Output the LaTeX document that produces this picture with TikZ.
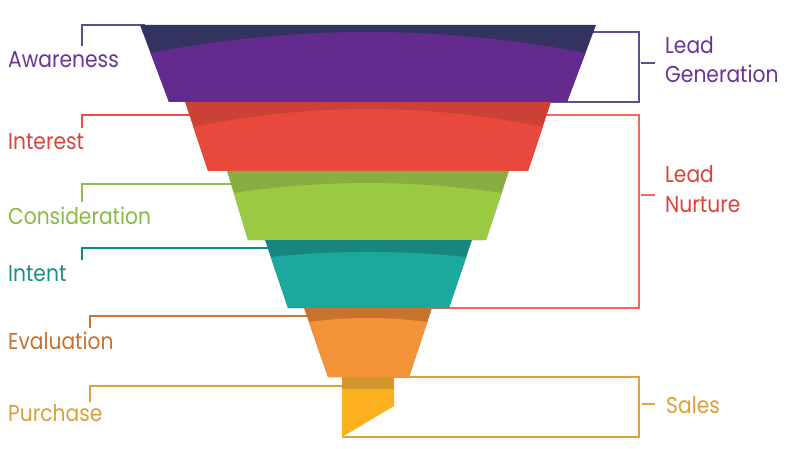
\documentclass[tikz,border=0pt]{standalone}
\usepackage{fontspec}
\setmainfont{Poppins}[FakeStretch=0.88]
\definecolor{pdark}{HTML}{33335F}
\definecolor{pmain}{HTML}{642B8F}
\definecolor{rdark}{HTML}{CC4136}
\definecolor{rmain}{HTML}{E8493C}
\definecolor{gdark}{HTML}{88AD40}
\definecolor{gmain}{HTML}{99CA42}
\definecolor{tdark}{HTML}{17877D}
\definecolor{tmain}{HTML}{1CA99D}
\definecolor{odark}{HTML}{C7722D}
\definecolor{omain}{HTML}{F39237}
\definecolor{ydark}{HTML}{D3962B}
\definecolor{ymain}{HTML}{FBB11E}
\definecolor{pline}{HTML}{575291}
\definecolor{rline}{HTML}{E9503F}
\definecolor{rbox}{HTML}{F0695B}
\definecolor{gline}{HTML}{8EBE52}
\definecolor{tline}{HTML}{15897E}
\definecolor{oline}{HTML}{C87632}
\definecolor{yline}{HTML}{DEA23C}
\definecolor{ptext}{HTML}{6A3494}
\definecolor{rtext}{HTML}{D9433A}
\definecolor{gtext}{HTML}{8AB945}
\definecolor{ttext}{HTML}{18907F}
\definecolor{otext}{HTML}{C7722F}
\definecolor{ytext}{HTML}{DAA035}
\begin{document}
\begin{tikzpicture}[x=1pt,y=-1pt,
  lbl/.style={inner sep=0pt,anchor=base west,font=\fontsize{23}{23}\selectfont},
  conn/.style={line width=1.2pt},
  tick/.style={line width=1.2pt}]
\useasboundingbox (0,0) rectangle (800,449);
% ---------- labels ----------
\node[lbl,text=ptext] (aw) at (8,68) {Awareness};
\node[lbl,text=rtext] (in) at (8,150) {Interest};
\node[lbl,text=gtext] (co) at (8,224) {Consideration};
\node[lbl,text=ttext] (it) at (8,281) {Intent};
\node[lbl,text=otext] (ev) at (8,349) {Evaluation};
\node[lbl,text=ytext] (pu) at (8,421) {Purchase};
\node[lbl,text=ptext] (lg1) at (665,54) {Lead};
\node[lbl,text=ptext] (lg2) at (665,83) {Generation};
\node[lbl,text=rtext] (ln1) at (665,183) {Lead};
\node[lbl,text=rtext] (ln2) at (665,212) {Nurture};
\node[lbl,text=ytext] (sa) at (666,413) {Sales};
% ---------- connector coordinates ----------
\coordinate (awA) at (82,46);  \coordinate (awB) at (82,25);  \coordinate (awC) at (145,25);
\coordinate (inA) at (82,128); \coordinate (inB) at (82,115); \coordinate (inC) at (300,115);
\coordinate (coA) at (82,202); \coordinate (coB) at (82,184); \coordinate (coC) at (320,184);
\coordinate (itA) at (82,260); \coordinate (itB) at (82,248); \coordinate (itC) at (320,248);
\coordinate (evA) at (90,328); \coordinate (evB) at (90,316); \coordinate (evC) at (340,316);
\coordinate (puA) at (90,402); \coordinate (puB) at (90,386); \coordinate (puC) at (360,386);
\coordinate (lgA) at (550,32); \coordinate (lgB) at (639,32); \coordinate (lgC) at (639,102); \coordinate (lgD) at (500,102);
\coordinate (lnA) at (450,115); \coordinate (lnB) at (639,115); \coordinate (lnC) at (639,308); \coordinate (lnD) at (400,308);
\coordinate (saA) at (380,377); \coordinate (saB) at (639,377); \coordinate (saC) at (639,437); \coordinate (saD) at (342,437);
\coordinate (lgT1) at (641,63);  \coordinate (lgT2) at (655,63);
\coordinate (lnT1) at (641,195); \coordinate (lnT2) at (655,195);
\coordinate (saT1) at (642,404); \coordinate (saT2) at (655,404);
% ---------- connectors ----------
\draw[conn,pline] (awA) -- (awB) -- (awC);
\draw[conn,rline] (inA) -- (inB) -- (inC);
\draw[conn,gline] (coA) -- (coB) -- (coC);
\draw[conn,tline] (itA) -- (itB) -- (itC);
\draw[conn,oline] (evA) -- (evB) -- (evC);
\draw[conn,yline] (puA) -- (puB) -- (puC);
\draw[conn,pline] (lgA) -- (lgB) -- (lgC) -- (lgD);
\draw[conn,rbox] (lnA) -- (lnB) -- (lnC) -- (lnD);
\draw[conn,yline] (saA) -- (saB) -- (saC) -- (saD);
\draw[tick,pline] (lgT1) -- (lgT2);
\draw[tick,rbox] (lnT1) -- (lnT2);
\draw[tick,yline] (saT1) -- (saT2);
% ---------- funnel ----------
% purple
\begin{scope}
\clip (140,25) -- (596,25) -- (567,102) -- (169,102) -- cycle;
\fill[pdark] (130,20) rectangle (610,105);
\fill[pmain] (130,53) -- (150.5,53) .. controls (295.5,25) and (440.5,25) .. (585.5,53) -- (610,53) -- (610,105) -- (130,105) -- cycle;
\end{scope}
% red
\begin{scope}
\clip (185,102) -- (551,102) -- (528,171) -- (208,171) -- cycle;
\fill[rdark] (180,100) rectangle (560,175);
\fill[rmain] (180,127) -- (193.3,127) .. controls (309.8,103) and (426.2,103) .. (542.7,127) -- (560,127) -- (560,175) -- (180,175) -- cycle;
\end{scope}
% green
\begin{scope}
\clip (227,171) -- (509,171) -- (486,240) -- (248,240) -- cycle;
\fill[gdark] (220,170) rectangle (515,242);
\fill[gmain] (220,193) -- (233.7,193) .. controls (323,179.7) and (412.4,179.7) .. (501.7,193) -- (515,193) -- (515,242) -- (220,242) -- cycle;
\end{scope}
% teal
\begin{scope}
\clip (265,240) -- (472,240) -- (449,308) -- (288,308) -- cycle;
\fill[tdark] (260,238) rectangle (480,310);
\fill[tmain] (260,257) -- (270.75,257) .. controls (336,250.3) and (401,250.3) .. (466.25,257) -- (480,257) -- (480,310) -- (260,310) -- cycle;
\end{scope}
% orange
\begin{scope}
\clip (304,308) -- (432,308) -- (409,377) -- (328,377) -- cycle;
\fill[odark] (300,306) rectangle (440,379);
\fill[omain] (300,322) -- (308.9,322) .. controls (348.3,316.7) and (387.7,316.7) .. (427.3,322) -- (440,322) -- (440,379) -- (300,379) -- cycle;
\end{scope}
% yellow
\fill[ymain] (342,377) -- (394,377) -- (394,406) -- (342,437) -- cycle;
\fill[ydark] (342,377) rectangle (394,389);
\end{tikzpicture}
\end{document}
